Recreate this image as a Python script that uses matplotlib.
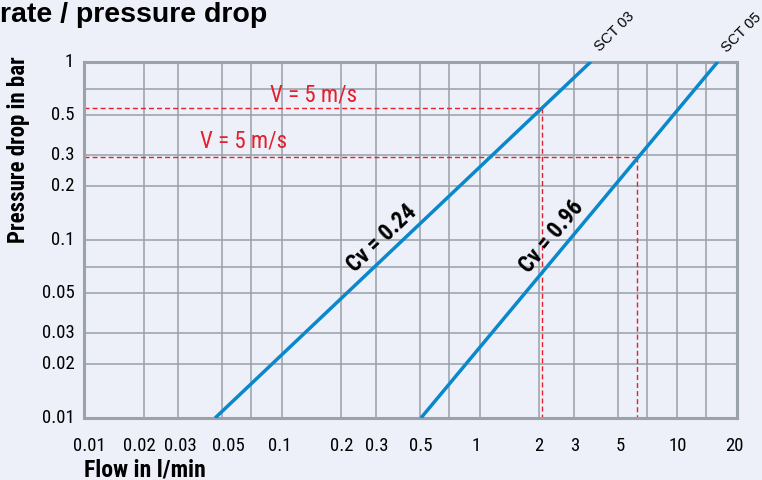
import numpy as np
import matplotlib
matplotlib.use("Agg")
import matplotlib.pyplot as plt
from matplotlib.transforms import ScaledTranslation

# --- data --------------------------------------------------------------------
flow_ticks = [0.01, 0.02, 0.03, 0.05, 0.1, 0.2, 0.3, 0.5, 1, 2, 3, 5, 10, 20]
flow_labels = ["0.01", "0.02", "0.03", "0.05", "0.1", "0.2", "0.3", "0.5",
               "1", "2", "3", "5", "10", "20"]
flow_grid = [0.02, 0.03, 0.05, 0.07, 0.1, 0.2, 0.3, 0.5, 0.7, 1, 2, 3, 5, 7, 10, 14]
dp_ticks = [0.01, 0.02, 0.03, 0.05, 0.1, 0.2, 0.3, 0.5, 1]
dp_labels = ["0.01", "0.02", "0.03", "0.05", "0.1", "0.2", "0.3", "0.5", "1"]
dp_grid = [0.02, 0.03, 0.05, 0.07, 0.1, 0.2, 0.3, 0.5, 0.7]

sct03_flow = [0.046, 3.65]
sct03_dp = [0.01, 1.0]
sct05_flow = [0.505, 16.0]
sct05_dp = [0.01, 1.0]

# V = 5 m/s operating points
v5_flow = [2.07, 6.27]
v5_dp = [0.547, 0.29]

BG = "#eef0f9"
GRID = "#98a0a8"
BLUE = "#0a88cb"
RED = "#e3202c"
COND = ["Roboto Condensed", "DejaVu Sans"]
SANS = ["Liberation Sans", "DejaVu Sans"]

fig = plt.figure(figsize=(7.62, 4.81), dpi=100, facecolor=BG)
ax = fig.add_axes([84 / 762, 1 - 419 / 481, (737 - 84) / 762, (419 - 62.7) / 481])
ax.set_facecolor(BG)
ax.set_xscale("log"); ax.set_yscale("log")
ax.set_xlim(0.01, 20); ax.set_ylim(0.01, 1)

for g in flow_grid:
    ax.axvline(g, color=GRID, lw=1.1, zorder=1)
for g in dp_grid:
    ax.axhline(g, color=GRID, lw=1.1, zorder=1)

ax.set_xticks(flow_ticks); ax.set_xticklabels(flow_labels)
ax.set_yticks(dp_ticks); ax.set_yticklabels(dp_labels)
ax.minorticks_off()
ax.tick_params(length=0, labelsize=13.5)
ax.tick_params(axis="x", pad=13)
ax.tick_params(axis="y", pad=7)
# small horizontal nudges of the x labels, as set in the original artwork (px)
x_nudge = [5, -4, 2, 6, -2, 0, 1, 1, -3, 0, 1, 2, 0, -3]
for lab, dx in zip(ax.get_xticklabels(), x_nudge):
    lab.set_fontfamily(COND)
    lab.set_transform(lab.get_transform() + ScaledTranslation(dx / 100, 0, fig.dpi_scale_trans))
up = ScaledTranslation(0, 3 / 100, fig.dpi_scale_trans)
for lab in ax.get_yticklabels():
    lab.set_fontfamily(COND)
    lab.set_transform(lab.get_transform() + up)
for s in ax.spines.values():
    s.set_color("#9aa2aa"); s.set_linewidth(2.2)

# red dashed guides
for fx, fy in zip(v5_flow, v5_dp):
    ax.plot([0.01, fx], [fy, fy], color=RED, lw=1.0, dashes=(3.6, 2.2), zorder=2)
    ax.plot([fx, fx], [fy, 0.01], color=RED, lw=1.0, dashes=(3.6, 2.2), zorder=2)

ax.plot(sct03_flow, sct03_dp, color=BLUE, lw=2.5, zorder=3, solid_capstyle="butt")
ax.plot(sct05_flow, sct05_dp, color=BLUE, lw=2.5, zorder=3, solid_capstyle="butt")

ax.text(0.144, 0.66, "V = 5 m/s", color=RED, fontsize=16.5, family=COND,
        ha="center", va="center")
ax.text(0.0644, 0.363, "V = 5 m/s", color=RED, fontsize=16.5, family=COND,
        ha="center", va="center")

ax.text(0.320, 0.1035, "Cv = 0.24", fontsize=16.5, fontweight="bold", family=COND,
        rotation=43.5, rotation_mode="anchor", ha="center", va="center")
ax.text(2.32, 0.1056, "Cv = 0.96", fontsize=16.5, fontweight="bold", family=COND,
        rotation=50.2, rotation_mode="anchor", ha="center", va="center")

ax.text(4.84, 1.488, "SCT 03", fontsize=10.5, family=SANS, rotation=45,
        rotation_mode="anchor", ha="center", va="center", clip_on=False)
ax.text(21.2, 1.47, "SCT 05", fontsize=10.5, family=SANS, rotation=45,
        rotation_mode="anchor", ha="center", va="center", clip_on=False)

fig.text(0.0, 1 - 15 / 481, "rate / pressure drop", fontsize=20.5, fontweight="bold",
         family=SANS, ha="left", va="center")
fig.text(19 / 762, 1 - 150 / 481, "Pressure drop in bar", fontsize=16.5, fontweight="bold",
         family=COND, rotation=90, ha="center", va="center")
fig.text(84 / 762, 1 - 470 / 481, "Flow in l/min", fontsize=17, fontweight="bold",
         family=COND, ha="left", va="center")

fig.savefig("out.png", dpi=100, facecolor=BG)
